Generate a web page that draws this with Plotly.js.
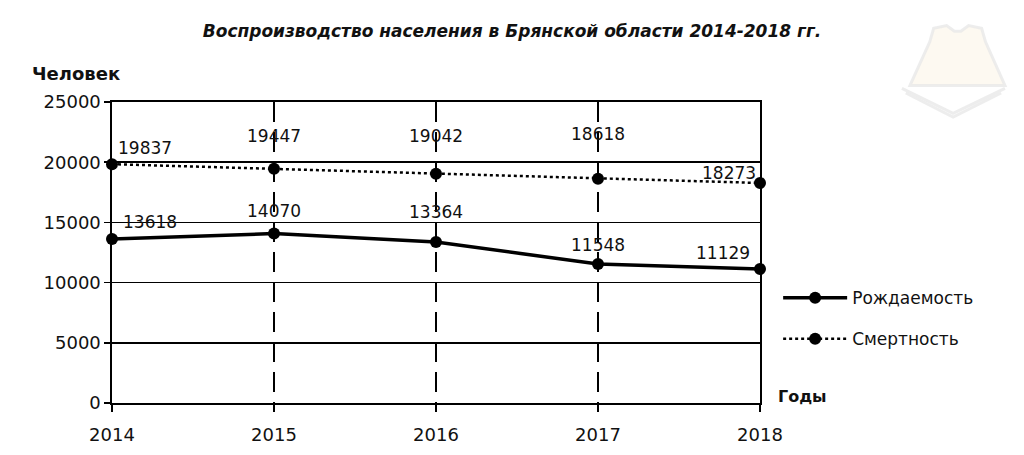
<!DOCTYPE html>
<html>
<head>
<meta charset="utf-8">
<script src="https://cdn.plot.ly/plotly-3.0.1.min.js"></script>
<style>html,body{margin:0;padding:0;background:#fff;}#chart{width:1024px;height:455px;}</style>
</head>
<body>
<div id="chart"></div>
<script>
const years = [2014, 2015, 2016, 2017, 2018];
const births = [13618, 14070, 13364, 11548, 11129];
const deaths = [19837, 19447, 19042, 18618, 18273];
const yTicks = [0, 5000, 10000, 15000, 20000, 25000];
const seriesNames = ['Рождаемость', 'Смертность'];
const titleText = 'Воспроизводство населения в Брянской области 2014-2018 гг.';
const yTitle = 'Человек';
const xTitle = 'Годы';

// label placement (style only)
const birthShift = [[38, 17], [0, 23], [0, 30], [0, 19], [-37, 16]];
const deathShift = [[33, 16], [0, 33], [0, 38], [0, 45], [-31, 10]];

const FONT = 'DejaVu Sans';
const labelFont = {family: FONT, size: 17, color: '#111'};

const traces = [
  {x: years, y: births, name: seriesNames[0], mode: 'lines+markers', type: 'scatter',
   line: {color: '#000', width: 3.5}, marker: {color: '#000', size: 12}, legend: 'legend', cliponaxis: false},
  {x: years, y: deaths, name: seriesNames[1], mode: 'lines+markers', type: 'scatter',
   line: {color: '#000', width: 2.5, dash: 'dot'}, marker: {color: '#000', size: 12}, legend: 'legend2', cliponaxis: false}
];

const annotations = [];
years.forEach((yr, i) => {
  annotations.push({x: yr, y: births[i], xref: 'x', yref: 'y', text: String(births[i]), showarrow: false,
    xshift: birthShift[i][0], yshift: birthShift[i][1], font: labelFont});
  annotations.push({x: yr, y: deaths[i], xref: 'x', yref: 'y', text: String(deaths[i]), showarrow: false,
    xshift: deathShift[i][0], yshift: deathShift[i][1], font: labelFont});
});
annotations.push({xref: 'paper', yref: 'paper', x: -0.127, y: 1.095, xanchor: 'left', yanchor: 'middle',
  text: '<b>' + yTitle + '</b>', showarrow: false, font: {family: FONT, size: 18, color: '#111'}});
annotations.push({xref: 'paper', yref: 'paper', x: 1.025, y: 0.022, xanchor: 'left', yanchor: 'middle',
  text: '<b>' + xTitle + '</b>', showarrow: false, font: {family: FONT, size: 16, color: '#111'}});

// faint watermark (decoration)
const shapes = [
  {type: 'path', xref: 'paper', yref: 'paper', layer: 'below',
   path: 'M 1.2315,1.055 L 1.262,1.20 L 1.268,1.245 L 1.288,1.254 L 1.300,1.235 L 1.310,1.235 L 1.322,1.254 L 1.342,1.245 L 1.348,1.20 L 1.378,1.055 Z',
   fillcolor: 'rgba(248,238,215,0.35)', line: {color: 'rgba(232,232,232,0.8)', width: 3}},
  {type: 'path', xref: 'paper', yref: 'paper', layer: 'below',
   path: 'M 1.219,1.045 L 1.298,0.962 L 1.378,1.045',
   line: {color: 'rgba(235,235,235,0.9)', width: 3}},
  {type: 'path', xref: 'paper', yref: 'paper', layer: 'below',
   path: 'M 1.225,1.030 L 1.298,0.950 L 1.372,1.030',
   line: {color: 'rgba(235,235,235,0.9)', width: 3}}
];

const layout = {
  width: 1024, height: 455,
  margin: {l: 112, r: 264, t: 102, b: 52},
  paper_bgcolor: '#fff', plot_bgcolor: '#fff',
  title: {text: '<b><i>' + titleText + '</i></b>', x: 0.5, xref: 'container', xanchor: 'center',
    y: 1 - 31 / 455, yanchor: 'middle', font: {family: FONT, size: 17, color: '#111'}},
  xaxis: {range: [years[0], years[years.length - 1]], tickvals: years, ticktext: years.map(String),
    showgrid: true, griddash: '20px,10px', gridcolor: '#000', gridwidth: 1.6,
    showline: true, linecolor: '#000', linewidth: 1.6, mirror: true,
    ticks: 'outside', ticklen: 7, tickcolor: '#000', tickwidth: 1.6,
    zeroline: false, fixedrange: true,
    tickfont: {family: FONT, size: 18, color: '#111'}, ticklabelstandoff: 8},
  yaxis: {range: [yTicks[0], yTicks[yTicks.length - 1]], tickvals: yTicks, ticktext: yTicks.map(String),
    showgrid: true, gridcolor: '#000', gridwidth: 1.6,
    showline: true, linecolor: '#000', linewidth: 1.6, mirror: true,
    ticks: 'outside', ticklen: 6, tickcolor: '#000', tickwidth: 1.6,
    zeroline: false, fixedrange: true,
    tickfont: {family: FONT, size: 18, color: '#111'}},
  showlegend: true,
  legend: {x: 1.028, y: 0.348, xanchor: 'left', yanchor: 'middle', itemwidth: 64,
    font: {family: FONT, size: 17, color: '#111'}, bgcolor: 'rgba(0,0,0,0)'},
  legend2: {x: 1.028, y: 0.212, xanchor: 'left', yanchor: 'middle', itemwidth: 64,
    font: {family: FONT, size: 17, color: '#111'}, bgcolor: 'rgba(0,0,0,0)'},
  annotations: annotations,
  shapes: shapes
};

Plotly.newPlot('chart', traces, layout, {displayModeBar: false, staticPlot: true});
</script>
</body>
</html>
